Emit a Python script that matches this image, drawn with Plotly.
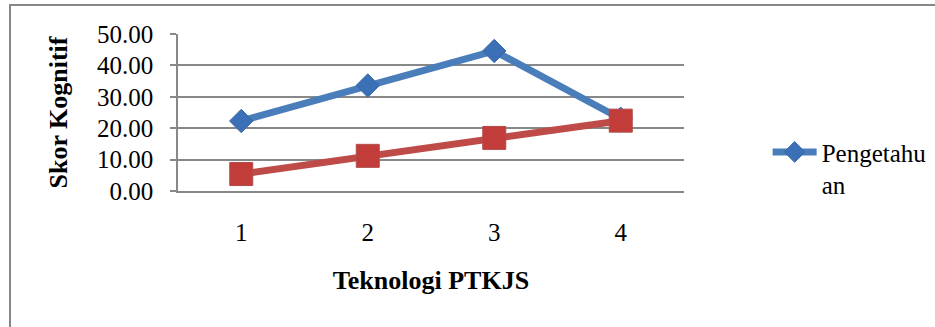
import plotly.graph_objects as go

categories = ["1", "2", "3", "4"]
pengetahuan = [22.3, 33.6, 44.6, 23.0]
series2 = [5.4, 11.2, 16.9, 22.4]
y_ticks = [0, 10, 20, 30, 40, 50]

FONT = "Liberation Serif"
GRID = "#888888"

fig = go.Figure()
fig.add_trace(go.Scatter(
    x=categories, y=pengetahuan, mode="lines+markers",
    name="Pengetahu<br>an",
    line=dict(color="#4A7EBB", width=7),
    marker=dict(symbol="diamond", size=18, color="#3C70B6",
                line=dict(color="#3A69A8", width=1)),
))
fig.add_trace(go.Scatter(
    x=categories, y=series2, mode="lines+markers",
    name="Keterampilan", showlegend=False,
    line=dict(color="#BE4B48", width=7),
    marker=dict(symbol="square", size=23, color="#C23C39",
                line=dict(color="#B14B48", width=1)),
))

fig.update_layout(
    width=935, height=327,
    margin=dict(l=178, r=251, t=34, b=136),
    paper_bgcolor="white", plot_bgcolor="white",
    font=dict(family=FONT, color="black", size=25),
    legend=dict(xref="container", yref="container",
                x=0.821, y=0.605, xanchor="left", yanchor="top",
                valign="top", bgcolor="rgba(0,0,0,0)", itemwidth=44,
                font=dict(family=FONT, size=25, color="black")),
    shapes=[dict(type="rect", xref="paper", yref="paper",
                 x0=-0.332, x1=1.6, y0=-1.0, y1=1.185,
                 line=dict(color="#878787", width=2), layer="below")],
)
fig.update_xaxes(
    type="category", range=[-0.5, 3.5],
    showgrid=False, showline=True, linecolor=GRID, linewidth=1.5,
    ticks="", ticklabelstandoff=18, automargin=False,
    tickfont=dict(family=FONT, size=25),
    title=dict(text="<b>Teknologi PTKJS</b>", standoff=26,
               font=dict(family=FONT, size=26)),
)
fig.update_yaxes(
    range=[0, 50], tickvals=y_ticks, tickformat=".2f",
    showgrid=True, gridcolor=GRID, gridwidth=1.5,
    showline=True, linecolor=GRID, linewidth=1.5,
    ticks="outside", ticklen=6, tickcolor=GRID, tickwidth=1.5,
    ticklabelstandoff=12, automargin=False, zeroline=False,
    tickfont=dict(family=FONT, size=25),
    title=dict(text="<b>Skor Kognitif</b>", standoff=22,
               font=dict(family=FONT, size=26)),
)

fig.write_html("out.html")
